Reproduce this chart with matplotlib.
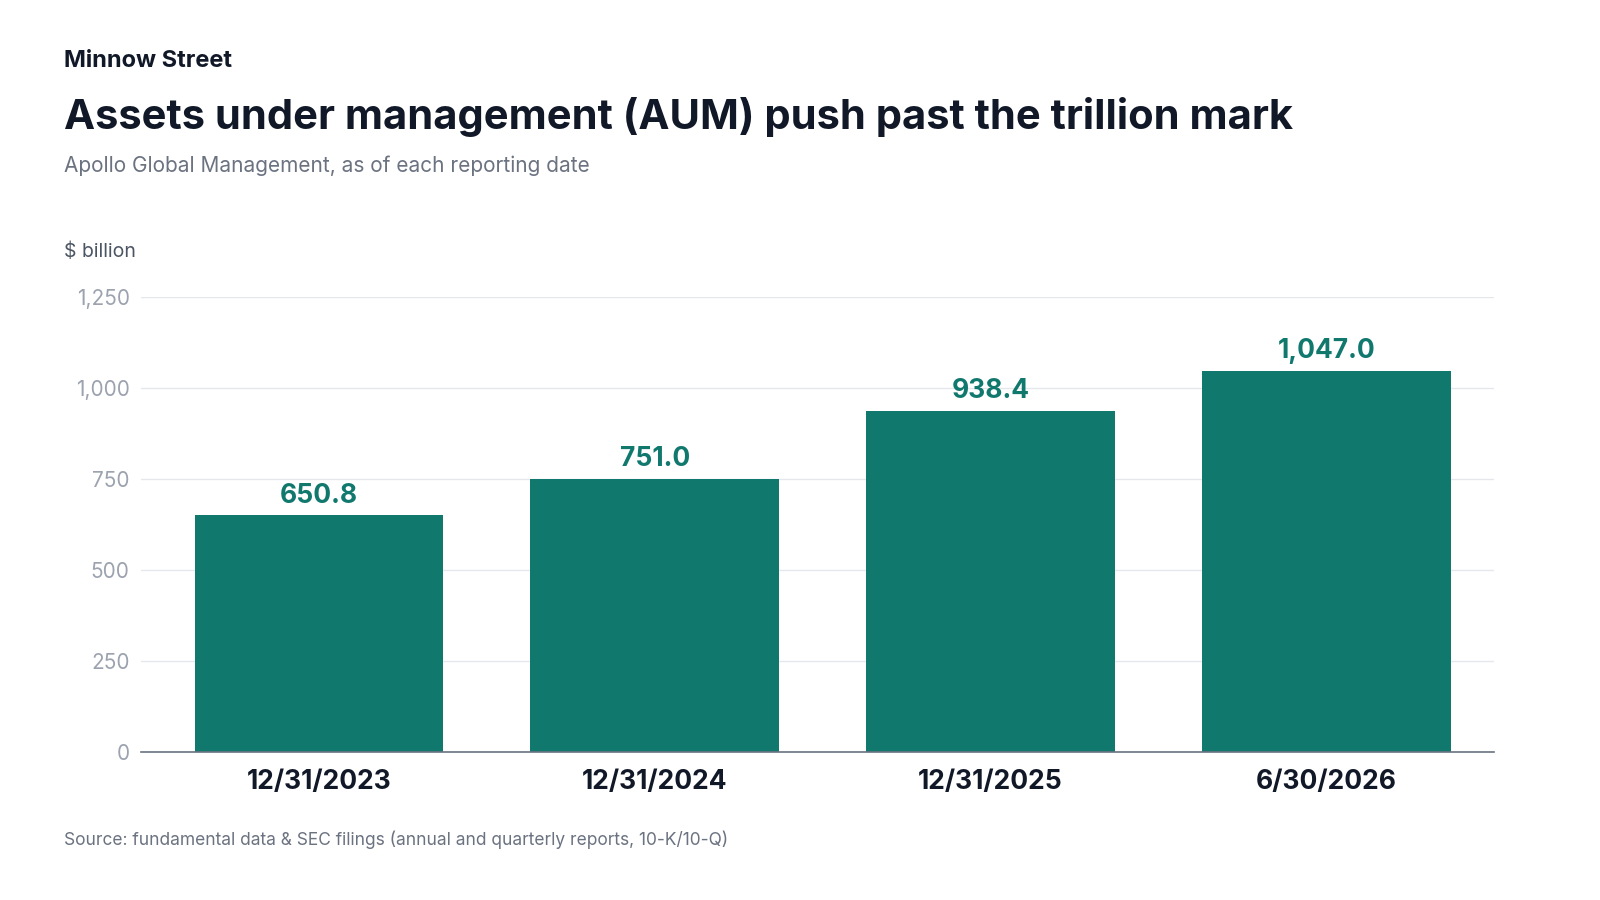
import matplotlib.pyplot as plt

dates = ["12/31/2023", "12/31/2024", "12/31/2025", "6/30/2026"]
aum = [650.8, 751.0, 938.4, 1047.0]
yticks = [0, 250, 500, 750, 1000, 1250]

plt.rcParams['font.family'] = ['Inter', 'DejaVu Sans']

fig = plt.figure(figsize=(16, 9), dpi=100)
ax = fig.add_axes([0.088, 0.164, 0.846, 0.506])

bar_color = "#11786E"
x = range(len(dates))
ax.bar(x, aum, width=0.74, color=bar_color, zorder=3)
for i, v in zip(x, aum):
    ax.text(i, v + 18, f"{v:,.1f}", ha="center", va="bottom", fontsize=19,
            fontweight="bold", color=bar_color)

ax.set_xlim(-0.53, 3.5)
ax.set_ylim(0, 1250)
ax.set_yticks(yticks)
ax.set_yticklabels([f"{t:,}" for t in yticks], fontsize=15, color="#9CA3AF")
ax.set_xticks(list(x))
ax.set_xticklabels(dates, fontsize=19, fontweight="bold", color="#111827")
ax.tick_params(axis="y", length=0, pad=8)
ax.tick_params(axis="x", length=0, pad=12)
ax.grid(axis="y", color="#E5E7EB", linewidth=1, zorder=0)
ax.set_axisbelow(True)
for s in ["top", "right", "left"]:
    ax.spines[s].set_visible(False)
ax.spines["bottom"].set_color("#6B7280")
ax.spines["bottom"].set_linewidth(1.2)
ax.spines["bottom"].set_zorder(4)

fig.text(0.04, 0.932, "Minnow Street", fontsize=17, fontweight="bold", color="#111827", va="center")
fig.text(0.04, 0.87, "Assets under management (AUM) push past the trillion mark",
         fontsize=30, fontweight="bold", color="#111827", va="center")
fig.text(0.04, 0.816, "Apollo Global Management, as of each reporting date",
         fontsize=15, color="#6B7280", va="center")
fig.text(0.04, 0.72, "$ billion", fontsize=14, color="#4B5563", va="center")
fig.text(0.04, 0.067, "Source: fundamental data & SEC filings (annual and quarterly reports, 10-K/10-Q)",
         fontsize=12.5, color="#6B7280", va="center")

fig.savefig("out.png", dpi=100, facecolor="white")
